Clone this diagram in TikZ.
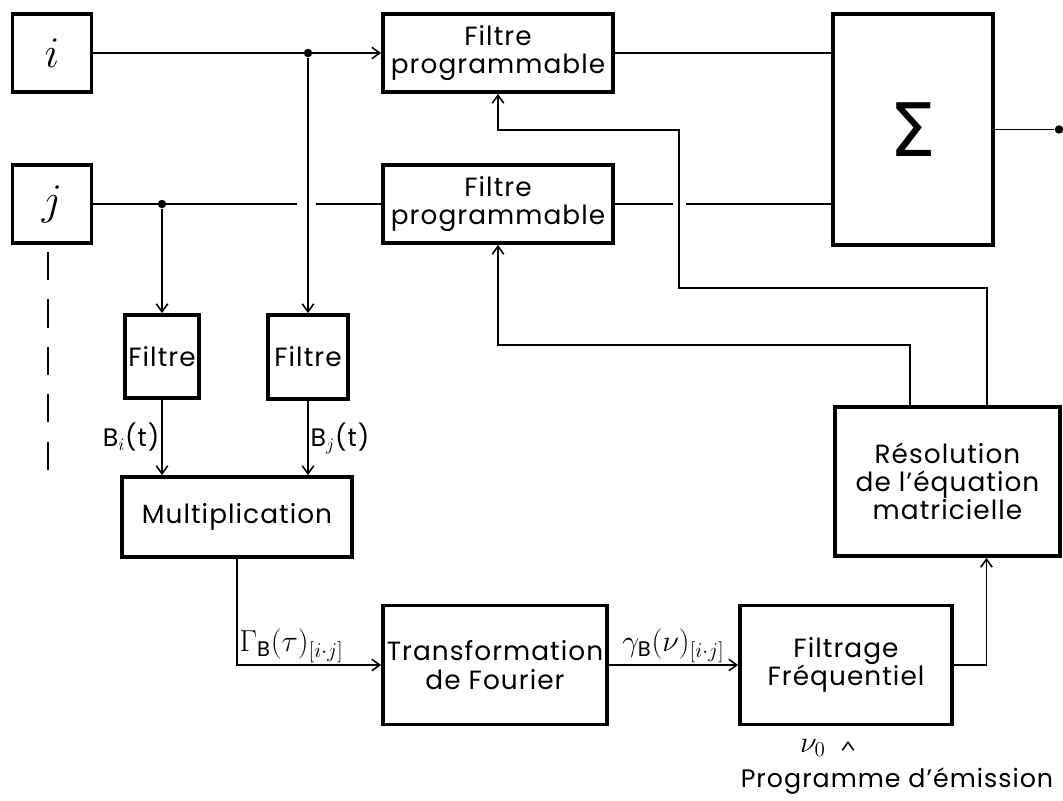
\documentclass[tikz,border=0pt]{standalone}
\usepackage{amsmath}
\usepackage{fontspec}
\setmainfont{Poppins}[LetterSpace=4]
\newfontfamily\greekfont{DejaVu Sans}
\usetikzlibrary{arrows.meta}

\begin{document}
\begin{tikzpicture}[x=0.02cm, y=-0.02cm,
    blk/.style={draw, line width=2.2pt, align=center, inner sep=2pt,
      font=\fontsize{15}{16}\selectfont},
    wire/.style={line width=0.9pt},
    lbl/.style={font=\Large, inner sep=1pt},
    dot/.style={circle, fill=black, inner sep=1.7pt},
    >={Straight Barb[length=4.5pt,width=6.5pt]}]

  \useasboundingbox (0,0) rectangle (1063,801);

  % sources i and j
  \node[blk, minimum width=1.58cm, minimum height=1.56cm, font=\Huge] (ibox) at (52,53) {$i$};
  \node[blk, minimum width=1.58cm, minimum height=1.56cm, font=\Huge] (jbox) at (52,204) {$j$};

  % programmable filters
  \foreach \n/\y in {fpa/53, fpb/204} {
    \node[blk, minimum width=4.6cm, minimum height=1.56cm] (\n) at (498,\y)
      {Filtre\\programmable};
  }

  \node[blk, minimum width=3.2cm, minimum height=4.62cm,
        font=\fontsize{42}{44}\selectfont\greekfont] (sig) at (913,129.5) {Σ};

  % filters and multiplication
  \node[blk, minimum width=1.46cm, minimum height=1.66cm] (fla) at (162,356.5) {Filtre};
  \node[blk, minimum width=1.6cm, minimum height=1.68cm] (flb) at (308,357) {Filtre};
  \node[blk, minimum width=4.6cm, minimum height=1.6cm] (mult) at (237,517) {Multiplication};

  \node[blk, minimum width=4.48cm, minimum height=2.38cm] (tf) at (495,665)
    {Transformation\\de Fourier};
  \node[blk, minimum width=4.24cm, minimum height=2.38cm] (freq) at (846,665)
    {Filtrage\\Fréquentiel};
  \node[blk, minimum width=4.5cm, minimum height=2.98cm] (reso) at (947.5,481.5)
    {Résolution\\de l’équation\\matricielle};

  % junctions
  \node[dot] (di) at (308,53) {};
  \node[dot] (dj) at (162,204) {};
  \node[dot] (out) at (1059,129.5) {};

  \coordinate (ga) at (297,204);
  \coordinate (gb) at (316,204);
  \coordinate (gc) at (673,204);
  \coordinate (gd) at (686,204);
  \coordinate (da) at (48,252);
  \coordinate (db) at (48,480);
  \coordinate (pg) at (848,743);

  % inputs
  \draw[wire,->] (ibox.east) -- (fpa.west);
  \draw[wire] (jbox.east) -- (ga);
  \draw[wire] (gb) -- (fpb.west);
  \draw[wire, dash pattern=on 16pt off 11pt] (da) -- (db);
  \draw[wire,->] (di) -- (flb.north);
  \draw[wire,->] (dj) -- (fla.north);

  % summation
  \draw[wire] (fpa.east) -- (fpa.east -| sig.west);
  \draw[wire] (fpb.east) -- (gc);
  \draw[wire] (gd) -- (fpb.east -| sig.west);
  \draw[wire] (sig.east) -- (out);

  % correlation chain
  \draw[wire,->] (fla.south) -- node[lbl, left] {B$_i$(t)} (fla.south |- mult.north);
  \draw[wire,->] (flb.south) -- node[lbl, right] {B$_j$(t)} (flb.south |- mult.north);
  \draw[wire,->] (mult.south) |- node[lbl, font=\LARGE, above right]
    {$\Gamma_{\mathrm{B}}(\tau)_{[i\cdot j]}$} (tf.west);
  \draw[wire,->] (tf.east) -- node[lbl, font=\LARGE, above]
    {$\gamma_{\mathrm{B}}(\nu)_{[i\cdot j]}$} (freq.west);
  \draw[wire,->] (freq.east) -| ([xshift=0.78cm]reso.south);

  % feedback to the programmable filters
  \draw[wire,->] ([xshift=0.79cm]reso.north) -- ++(0,-117) -| (679,130) -| (fpa.south);
  \draw[wire,->] ([xshift=-0.75cm]reso.north) -- ++(0,-60) -| (fpb.south);

  % emission programme
  \draw[wire,->] (pg) -- ++(0,-2);
  \node[lbl, font=\LARGE] (nu) at (813,748) {$\nu_0$};
  \node[lbl] (prog) at (897,781) {Programme d’émission};

\end{tikzpicture}
\end{document}
